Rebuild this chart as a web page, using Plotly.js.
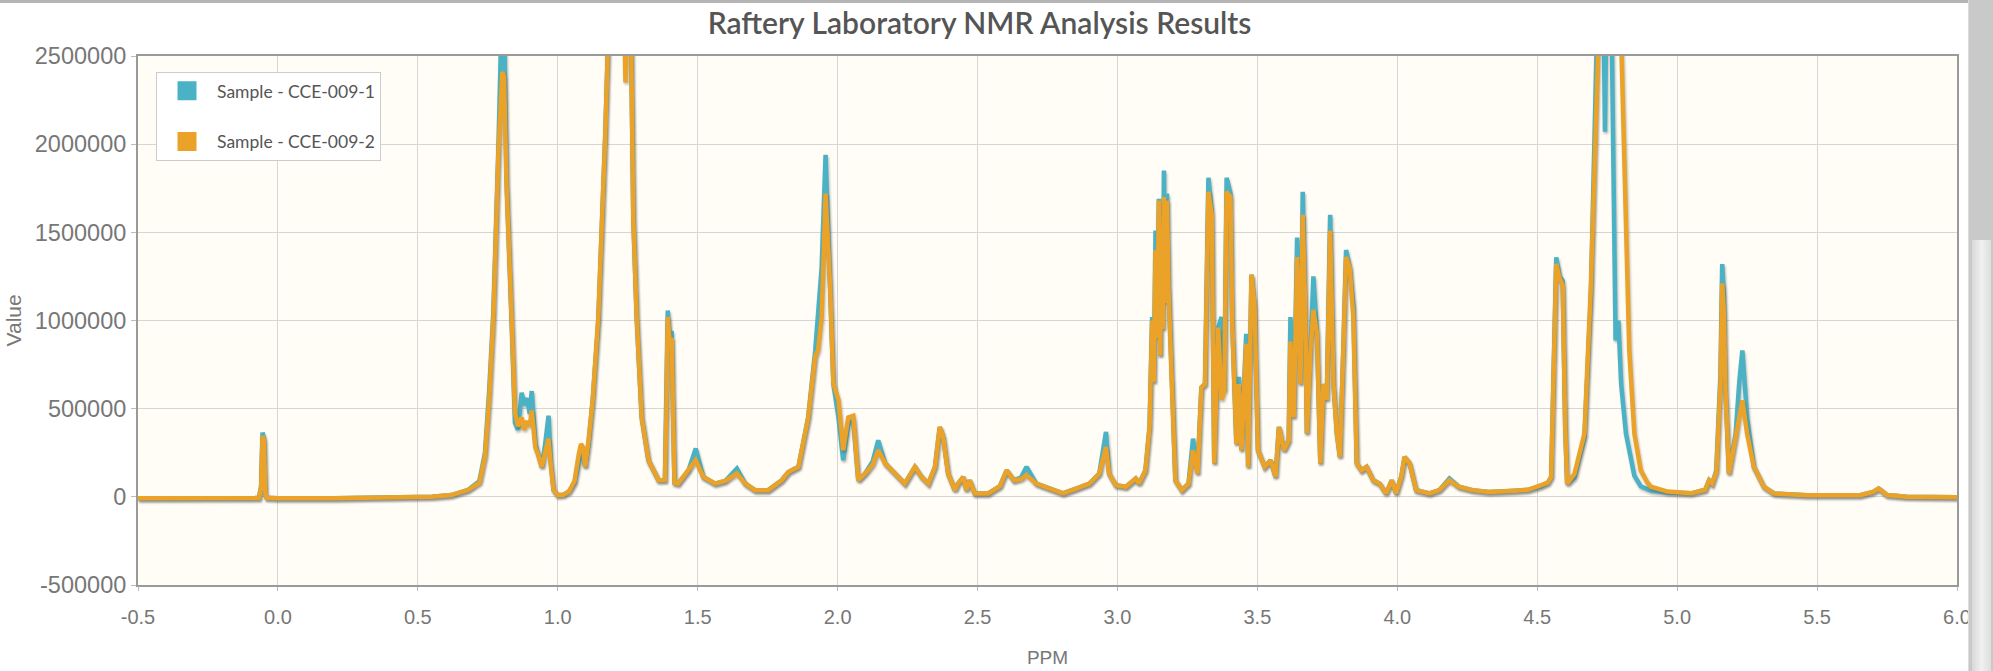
<!DOCTYPE html>
<html>
<head>
<meta charset="utf-8">
<script src="https://cdn.plot.ly/plotly-3.0.1.min.js"></script>
<style>
  html, body { margin: 0; padding: 0; background: #ffffff; overflow: hidden; }
  #chart { position: absolute; left: 0; top: 0; width: 1993px; height: 671px; }
  #topline { position: absolute; left: 0; top: 0; width: 1968px; height: 3px; background: #b4b4b4; }
  #scroll { position: absolute; left: 1968px; top: 0; width: 25px; height: 671px; background: #c9c9c9; border-left: 1px solid #dcdcdc; }
  #thumb { position: absolute; left: 3px; top: 240px; width: 19px; height: 431px; background: linear-gradient(to right, #d8d8d8, #f0f0f0, #dedede); }
  .js-line { filter: drop-shadow(1.5px 2px 1px rgba(60,60,60,0.35)); }
</style>
</head>
<body>
<div id="chart"></div>
<div id="topline"></div>
<div id="scroll"><div id="thumb"></div></div>
<script>
// ---- data ----
const seriesNames = ["Sample - CCE-009-1", "Sample - CCE-009-2"];
const seriesColors = ["#4bb2c5", "#EAA228"];

const xTickVals = [-0.5, 0.0, 0.5, 1.0, 1.5, 2.0, 2.5, 3.0, 3.5, 4.0, 4.5, 5.0, 5.5, 6.0];
const yTickVals = [-500000, 0, 500000, 1000000, 1500000, 2000000, 2500000];

const ppm = [
 -0.5,-0.3,-0.1,-0.068,-0.06,-0.055,-0.05,-0.045,-0.04,0.0,0.2,0.4,0.55,0.62,0.68,0.72,0.74,0.755,0.77,0.788,
 0.797,0.802,0.808,0.817,0.835,0.847,0.858,0.871,0.88,0.89,0.9,0.907,0.92,0.93,0.943,0.955,0.967,0.975,0.985,1.0,
 1.02,1.04,1.06,1.075,1.083,1.09,1.098,1.11,1.125,1.145,1.16,1.17,1.18,1.2,1.23,1.242,1.252,1.262,1.27,1.282,
 1.3,1.324,1.36,1.383,1.388,1.393,1.4,1.407,1.413,1.417,1.43,1.467,1.493,1.52,1.562,1.598,1.64,1.67,1.705,1.752,
 1.8,1.824,1.86,1.895,1.92,1.93,1.943,1.957,1.973,1.985,2.003,2.02,2.038,2.056,2.074,2.098,2.125,2.145,2.17,2.205,
 2.24,2.276,2.3,2.324,2.348,2.365,2.377,2.395,2.419,2.43,2.449,2.46,2.472,2.49,2.538,2.557,2.58,2.604,2.63,2.655,
 2.675,2.71,2.758,2.805,2.852,2.9,2.935,2.959,2.97,2.994,3.03,3.065,3.077,3.1,3.115,3.124,3.13,3.136,3.142,3.148,3.153,3.158,3.162,3.166,3.171,
 3.177,3.183,3.19,3.2,3.207,3.23,3.254,3.27,3.286,3.3,3.313,3.325,3.337,3.346,3.36,3.372,3.382,3.39,3.404,3.41,
 3.416,3.425,3.434,3.443,3.46,3.467,3.479,3.49,3.502,3.526,3.547,3.565,3.577,3.595,3.612,3.618,3.63,3.642,3.654,3.662,
 3.671,3.677,3.69,3.7,3.713,3.725,3.736,3.748,3.76,3.772,3.784,3.795,3.807,3.817,3.83,3.843,3.855,3.872,3.89,3.914,
 3.937,3.96,3.98,3.996,4.015,4.026,4.044,4.067,4.115,4.15,4.186,4.22,4.268,4.327,4.42,4.467,4.514,4.538,4.55,4.56,
 4.568,4.58,4.591,4.6,4.607,4.633,4.669,4.692,4.705,4.715,4.73,4.742,4.752,4.765,4.776,4.78,4.79,4.8,4.817,4.829,
 4.847,4.87,4.894,4.906,4.966,5.05,5.1,5.114,5.125,5.14,5.155,5.161,5.167,5.173,5.185,5.209,5.222,5.233,5.25,5.274,
 5.31,5.346,5.464,5.654,5.7,5.72,5.75,5.82,6.0
];

const sample1 = [
 -8000,-8000,-7000,-6000,60000,365000,330000,20000,-5000,-8000,-8000,-6000,0,10000,40000,90000,250000,600000,1050000,1980000,
 2700000,2900000,2750000,1800000,1000000,420000,380000,590000,520000,560000,470000,600000,300000,250000,170000,300000,460000,200000,40000,10000,
 12000,30000,80000,200000,250000,230000,170000,300000,550000,1000000,1600000,2060000,2600000,3500000,3400000,3200000,3000000,2600000,1580000,1020000,
 450000,207000,94000,95000,500000,1057000,900000,940000,400000,80000,75000,150000,274000,113000,75000,90000,160000,75000,38000,38000,
 94000,141000,170000,450000,830000,1020000,1300000,1940000,1200000,640000,450000,208000,420000,430000,94000,132000,200000,320000,190000,132000,
 75000,170000,113000,75000,170000,396000,340000,132000,38000,75000,113000,38000,94000,19000,19000,38000,60000,150000,94000,110000,
 170000,75000,47000,20000,47000,75000,132000,368000,132000,66000,57000,104000,75000,150000,400000,1020000,650000,1510000,900000,1690000,800000,1550000,950000,1850000,1100000,
 1720000,1200000,830000,300000,94000,38000,75000,330000,132000,620000,640000,1810000,1620000,190000,960000,1020000,600000,1810000,1720000,1000000,
 640000,300000,680000,264000,925000,170000,1260000,1080000,264000,170000,208000,113000,396000,264000,320000,1020000,450000,1470000,640000,1730000,
 1060000,360000,830000,1250000,925000,190000,640000,550000,1600000,640000,360000,226000,830000,1400000,1300000,1080000,190000,150000,170000,94000,
 75000,19000,94000,19000,120000,226000,190000,38000,19000,38000,104000,57000,38000,28000,35000,40000,60000,80000,113000,700000,
 1358000,1250000,1226000,400000,75000,110000,340000,1150000,2200000,3000000,3800000,2070000,3500000,2800000,1470000,887000,1000000,640000,360000,250000,
 120000,60000,40000,35000,25000,20000,40000,94000,75000,150000,700000,1320000,1150000,600000,132000,360000,650000,830000,450000,170000,
 57000,19000,9000,9000,28000,47000,10000,0,-3000
];

const sample2 = [
 -8000,-8000,-7000,-6000,50000,345000,320000,20000,-5000,-8000,-8000,-6000,0,10000,40000,80000,230000,560000,1020000,1960000,
 2300000,2410000,2380000,1770000,1020000,480000,400000,450000,380000,430000,400000,490000,280000,240000,170000,250000,330000,180000,40000,10000,
 12000,30000,90000,240000,300000,280000,170000,320000,550000,1020000,1600000,2060000,2600000,3500000,3300000,2350000,2900000,2600000,1580000,1020000,
 450000,207000,94000,95000,480000,1020000,880000,900000,400000,80000,75000,150000,208000,113000,75000,90000,132000,75000,38000,38000,
 94000,141000,170000,450000,800000,830000,1020000,1720000,1200000,640000,550000,264000,450000,460000,94000,132000,180000,264000,190000,132000,
 75000,170000,113000,75000,170000,396000,340000,132000,38000,75000,113000,38000,94000,19000,19000,38000,60000,150000,94000,100000,
 123000,75000,47000,20000,47000,75000,132000,283000,132000,66000,57000,104000,75000,150000,400000,1000000,650000,1400000,900000,1680000,800000,1500000,950000,1700000,1100000,
 1680000,1150000,830000,300000,94000,38000,75000,264000,132000,620000,640000,1730000,1600000,190000,960000,550000,600000,1730000,1700000,1000000,
 640000,300000,640000,264000,868000,170000,1260000,1080000,264000,170000,208000,113000,396000,264000,320000,880000,450000,1360000,640000,1600000,
 1060000,360000,830000,1060000,925000,190000,640000,550000,1510000,640000,360000,226000,830000,1360000,1300000,1020000,190000,150000,170000,94000,
 75000,19000,94000,19000,120000,226000,190000,38000,19000,38000,95000,57000,38000,28000,35000,40000,66000,80000,113000,700000,
 1320000,1240000,1200000,400000,75000,130000,360000,1200000,2300000,3000000,3800000,3800000,3800000,3800000,3500000,3400000,3000000,2600000,1490000,830000,
 360000,150000,80000,57000,30000,20000,40000,94000,75000,140000,650000,1210000,1050000,600000,132000,360000,450000,547000,360000,170000,
 57000,19000,9000,9000,28000,47000,10000,0,-3000
];

const seriesValues = [sample1, sample2];

const chartTitle = "Raftery Laboratory NMR Analysis Results";
const xTitle = "PPM";
const yTitle = "Value";

// ---- traces ----
const traces = [];
seriesValues.forEach((vals, i) => {
  traces.push({
    x: ppm, y: vals, type: "scatter", mode: "lines",
    line: { color: seriesColors[i], width: 4.5 },
    showlegend: false, hoverinfo: "skip"
  });
});
// legend swatches
seriesNames.forEach((nm, i) => {
  traces.push({
    x: [null], y: [null], type: "scatter", mode: "markers", name: nm,
    legendgroup: "g" + i,
    marker: { symbol: "square", size: 16, color: seriesColors[i], line: { color: seriesColors[i], width: 3 } }
  });
});

const layout = {
  width: 1993, height: 671,
  margin: { l: 138, r: 36, t: 56, b: 86, pad: 0 },
  paper_bgcolor: "#ffffff",
  plot_bgcolor: "#fffdf6",
  title: {
    text: chartTitle, x: 0.4915, xanchor: "center", y: 0.965, yanchor: "middle",
    font: { family: "Lato, 'DejaVu Sans', sans-serif", size: 30, color: "#555555", weight: 600 }
  },
  showlegend: true,
  legend: {
    x: 0.0099, y: 0.97, xanchor: "left", yanchor: "top",
    bgcolor: "#ffffff", bordercolor: "#cccccc", borderwidth: 1,
    traceorder: "grouped", tracegroupgap: 25, itemwidth: 50,
    font: { family: "Lato, 'DejaVu Sans', sans-serif", size: 17.5, color: "#555555" },
    itemsizing: "trace"
  },
  xaxis: {
    range: [-0.5, 6.0], tickmode: "array", tickvals: xTickVals,
    ticktext: xTickVals.map(v => v.toFixed(1)),
    showgrid: true, gridcolor: "#d6d6d6", gridwidth: 1,
    zeroline: false, showline: true, linecolor: "#9a9a9a", linewidth: 2, mirror: true,
    ticks: "outside", ticklen: 4, tickcolor: "#bbbbbb", ticklabelstandoff: 9,
    tickfont: { family: "'Liberation Sans Narrow', 'Liberation Sans', sans-serif", size: 20, color: "#777777" },
    title: { text: xTitle, standoff: 24,
      font: { family: "'Liberation Sans Narrow', 'Liberation Sans', sans-serif", size: 19, color: "#777777" } }
  },
  yaxis: {
    range: [-500000, 2500000], tickmode: "array", tickvals: yTickVals,
    ticktext: yTickVals.map(v => String(v)),
    showgrid: true, gridcolor: "#d6d6d6", gridwidth: 1,
    zeroline: false, showline: true, linecolor: "#9a9a9a", linewidth: 2, mirror: true,
    ticks: "outside", ticklen: 5, tickcolor: "#bbbbbb",
    tickfont: { family: "'Liberation Sans', Arial, sans-serif", size: 23.5, color: "#777777" }
  },
  annotations: [{
    text: yTitle, textangle: -90, showarrow: false,
    xref: "paper", yref: "paper", x: 0, y: 0.5, xanchor: "center", yanchor: "middle",
    xshift: -125,
    font: { family: "'Liberation Sans', Arial, sans-serif", size: 21, color: "#777777" }
  }]
};

Plotly.newPlot("chart", traces, layout, { staticPlot: true, displayModeBar: false });
</script>
</body>
</html>
